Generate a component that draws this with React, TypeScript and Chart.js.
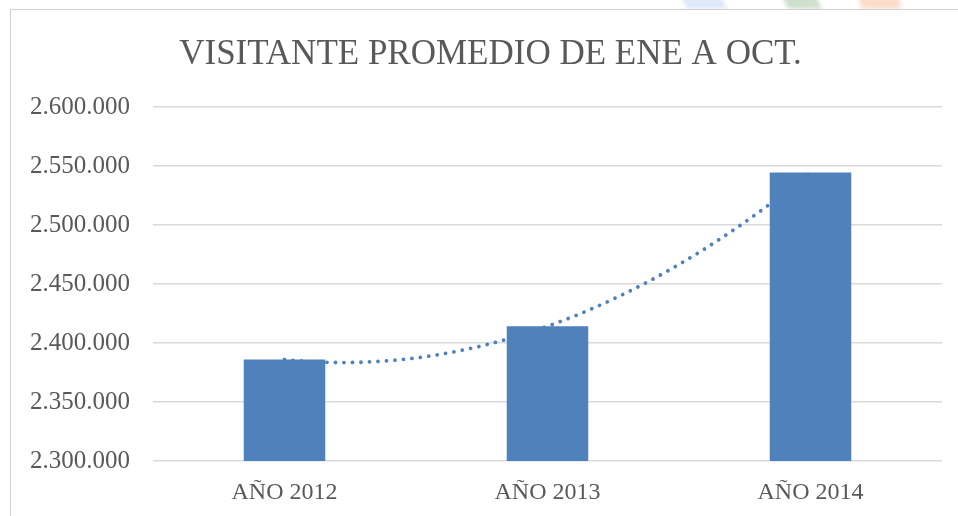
import React, { useEffect, useRef } from "react";
import { Chart, registerables } from "chart.js";

Chart.register(...registerables);

const categories = ["AÑO 2012", "AÑO 2013", "AÑO 2014"];
const visitantes = [2386000, 2414200, 2544500];
const yMin = 2300000;
const yMax = 2600000;
const yStep = 50000;
const titleText = "VISITANTE PROMEDIO DE ENE A OCT.";

const formatMiles = (v: number) =>
  String(Math.round(v)).replace(/\B(?=(\d{3})+(?!\d))/g, ".");

// least-squares polynomial (order 2) trendline, like a spreadsheet trendline
function fitQuadratic(ys: number[]) {
  const n = ys.length;
  let s0 = 0, s1 = 0, s2 = 0, s3 = 0, s4 = 0, t0 = 0, t1 = 0, t2 = 0;
  for (let i = 0; i < n; i++) {
    const x = i;
    s0 += 1; s1 += x; s2 += x * x; s3 += x * x * x; s4 += x * x * x * x;
    t0 += ys[i]; t1 += x * ys[i]; t2 += x * x * ys[i];
  }
  const M = [
    [s0, s1, s2, t0],
    [s1, s2, s3, t1],
    [s2, s3, s4, t2],
  ];
  for (let c = 0; c < 3; c++) {
    let p = c;
    for (let r = c + 1; r < 3; r++) if (Math.abs(M[r][c]) > Math.abs(M[p][c])) p = r;
    [M[c], M[p]] = [M[p], M[c]];
    for (let r = 0; r < 3; r++) {
      if (r === c) continue;
      const f = M[r][c] / M[c][c];
      for (let k = c; k < 4; k++) M[r][k] -= f * M[c][k];
    }
  }
  const a = M[0][3] / M[0][0];
  const b = M[1][3] / M[1][1];
  const cc = M[2][3] / M[2][2];
  return (x: number) => a + b * x + cc * x * x;
}

const trendPlugin = {
  id: "trendPoly",
  afterLayout(chart: any) {
    // center the title over the whole framed panel
    if (chart.titleBlock) {
      chart.titleBlock.left = 10;
      chart.titleBlock.right = 971;
    }
  },
  beforeDatasetsDraw(chart: any) {
    const xs = chart.scales.x;
    const ys = chart.scales.y;
    const f = fitQuadratic(visitantes);
    const ctx = chart.ctx;
    ctx.save();
    ctx.beginPath();
    const n = visitantes.length - 1;
    for (let t = 0; t <= n * 100; t++) {
      const xv = t / 100;
      const px = xs.getPixelForValue(xv);
      const py = ys.getPixelForValue(f(xv));
      if (t === 0) ctx.moveTo(px, py);
      else ctx.lineTo(px, py);
    }
    ctx.strokeStyle = "#4F81BD";
    ctx.lineWidth = 3.8;
    ctx.lineCap = "round";
    ctx.setLineDash([0.01, 8.5]);
    ctx.stroke();
    ctx.restore();
  },
};

export default function App() {
  const ref = useRef<HTMLCanvasElement | null>(null);

  useEffect(() => {
    if (!ref.current) return;
    const chart = new Chart(ref.current, {
      type: "bar",
      data: {
        labels: categories,
        datasets: [
          {
            label: "Visitantes",
            data: visitantes,
            backgroundColor: "#4F81BD",
            borderWidth: 0,
            barPercentage: 0.31,
            categoryPercentage: 1,
          },
        ],
      },
      plugins: [trendPlugin],
      options: {
        responsive: false,
        animation: false,
        layout: { padding: { left: 10, right: 29, top: 9, bottom: 9 } },
        plugins: {
          legend: { display: false },
          tooltip: { enabled: false },
          title: {
            display: true,
            text: titleText,
            color: "#595959",
            font: { family: "'Liberation Serif', serif", size: 35, weight: "normal" },
            padding: { top: 25, bottom: 31 },
          },
        },
        scales: {
          x: {
            afterFit: (s: any) => {
              s.height = 46;
            },
            grid: { display: false, drawTicks: false },
            border: { display: false },
            ticks: {
              color: "#595959",
              font: { family: "'Liberation Serif', serif", size: 24 },
              padding: 17,
            },
          },
          y: {
            min: yMin,
            max: yMax,
            afterFit: (s: any) => {
              s.width = 143;
            },
            grid: { color: "#D9D9D9", lineWidth: 1.5, drawTicks: false },
            border: { display: false },
            ticks: {
              stepSize: yStep,
              color: "#595959",
              font: { family: "'Liberation Serif', serif", size: 25 },
              padding: 23,
              callback: (v: any) => formatMiles(Number(v)),
            },
          },
        },
      },
    });
    return () => chart.destroy();
  }, []);

  return (
    <div
      style={{
        position: "fixed",
        left: 0,
        top: 0,
        width: 958,
        height: 516,
        overflow: "hidden",
        background: "#ffffff",
      }}
    >
      <div style={{ position: "absolute", left: 684, top: -4, width: 40, height: 13, background: "#dfe9fb", transform: "skewX(25deg)", filter: "blur(2px)" }} />
      <div style={{ position: "absolute", left: 785, top: -4, width: 34, height: 13, background: "#cfe0cf", transform: "skewX(25deg)", filter: "blur(2px)" }} />
      <div style={{ position: "absolute", left: 860, top: -4, width: 40, height: 13, background: "#fcdccb", transform: "skewX(10deg)", filter: "blur(2px)" }} />
      <div
        style={{
          position: "absolute",
          left: 10,
          top: 9,
          width: 980,
          height: 540,
          borderLeft: "1px solid #D0D0D0",
          borderTop: "1px solid #D0D0D0",
          background: "#ffffff",
        }}
      />
      <canvas
        ref={ref}
        width={971}
        height={516}
        style={{ position: "absolute", left: 0, top: 0, width: 971, height: 516 }}
      />
    </div>
  );
}
